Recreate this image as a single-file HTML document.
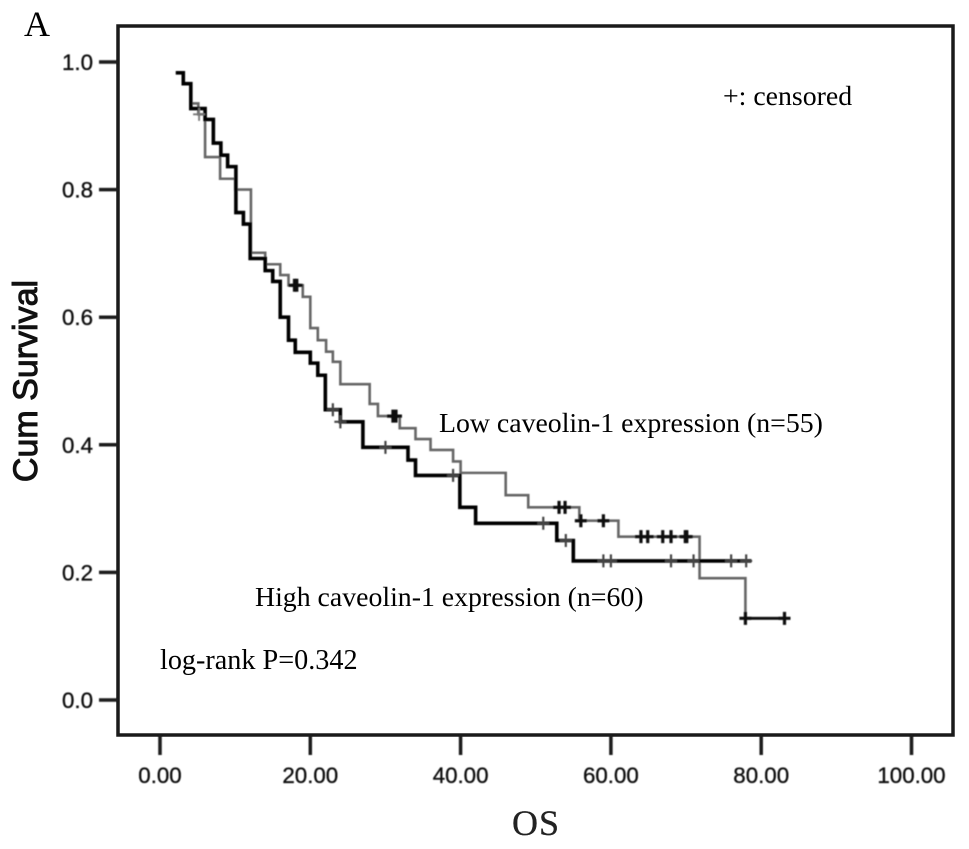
<!DOCTYPE html>
<html>
<head>
<meta charset="utf-8">
<title>Kaplan-Meier survival chart</title>
<style>
html,body{margin:0;padding:0;background:#fff;}
svg{display:block;}
.tick-label{font-family:"Liberation Sans",sans-serif;font-size:22.3px;fill:#111;stroke:#111;stroke-width:0.35;}
.note{font-family:"Liberation Serif",serif;font-size:27.8px;fill:#000;}
</style>
</head>
<body>
<svg id="chart" width="969" height="849" viewBox="0 0 969 849" xmlns="http://www.w3.org/2000/svg">
  <defs><filter id="soft" x="-5%" y="-5%" width="110%" height="110%"><feGaussianBlur stdDeviation="0.4"/></filter></defs>
  <rect x="0" y="0" width="969" height="849" fill="#fff"/>
  <rect x="118" y="26" width="835" height="709" fill="none" stroke="#1a1a1a" stroke-width="3.5"/>
  <g id="axes" filter="url(#soft)"></g>
  <g id="marks" filter="url(#soft)"></g>
  <text x="24" y="36" font-family="'Liberation Serif',serif" font-size="36" fill="#000">A</text>
  <text transform="translate(37,381) rotate(-90)" text-anchor="middle" font-family="'Liberation Sans',sans-serif" font-size="34" fill="#111" stroke="#111" stroke-width="1">Cum Survival</text>
  <text x="536" y="835" text-anchor="middle" font-family="'Liberation Serif',serif" font-size="36" letter-spacing="1" fill="#222" stroke="#222" stroke-width="0.3">OS</text>
  <text class="note" x="723" y="105">+: censored</text>
  <text class="note" x="439" y="432">Low caveolin-1 expression (n=55)</text>
  <text class="note" x="255" y="606">High caveolin-1 expression (n=60)</text>
  <text class="note" x="160" y="669" style="font-size:28.2px">log-rank P=0.342</text>
</svg>
<script>
const xTicks = [0, 20, 40, 60, 80, 100];
const xTickLabels = ['0.00', '20.00', '40.00', '60.00', '80.00', '100.00'];
const yTicks = [0, 0.2, 0.4, 0.6, 0.8, 1];
const yTickLabels = ['0.0', '0.2', '0.4', '0.6', '0.8', '1.0'];

const highTimes = [2.1, 3.1, 4.1, 6.0, 7.1, 8.1, 9.0, 10.1, 11.1, 12.0, 14.0, 15.0, 16.0, 17.1, 18.0, 20.0, 21.0, 22.0, 24.0, 27.0, 33.0, 34.0, 39.9, 42.0, 52.8, 55.0];
const highSurvival = [0.983, 0.966, 0.927, 0.910, 0.873, 0.854, 0.836, 0.764, 0.746, 0.692, 0.673, 0.656, 0.600, 0.564, 0.545, 0.528, 0.509, 0.455, 0.436, 0.396, 0.376, 0.352, 0.302, 0.277, 0.250, 0.218];
const highEnd = 78.7;
const highCensored = [23.0, 24.0, 30.0, 39.0, 51.0, 54.0, 59.0, 60.0, 68.0, 71.0, 76.0, 78.0];

const lowTimes = [2.1, 3.1, 4.1, 5.1, 6.0, 8.0, 10.0, 12.1, 14.0, 16.0, 17.1, 19.0, 20.0, 21.0, 22.1, 23.0, 24.0, 27.9, 29.0, 31.9, 34.0, 36.0, 39.0, 40.0, 46.0, 49.0, 55.8, 61.0, 71.8, 77.9];
const lowSurvival = [0.983, 0.966, 0.935, 0.918, 0.851, 0.817, 0.800, 0.701, 0.683, 0.666, 0.650, 0.632, 0.583, 0.564, 0.546, 0.530, 0.495, 0.464, 0.445, 0.426, 0.409, 0.392, 0.374, 0.356, 0.321, 0.302, 0.281, 0.256, 0.191, 0.128];
const lowEnd = 83.1;
const lowCensoredThin = [5.2];
const lowCensoredBold = [17.9, 18.2, 31.0, 31.4, 53.1, 53.9, 56.0, 59.0, 64.0, 64.9, 66.9, 68.0, 69.9, 70.1, 77.9, 83.1];

const SVG_NS = 'http://www.w3.org/2000/svg';
const axes = document.getElementById('axes');
const marks = document.getElementById('marks');

function xScale(t) { return 160 + 7.515 * t; }
function yScale(s) { return 700 - 638 * s; }

function make(tag, parent, attrs) {
  const el = document.createElementNS(SVG_NS, tag);
  Object.keys(attrs).forEach(function (k) { el.setAttribute(k, attrs[k]); });
  parent.appendChild(el);
  return el;
}

function survivalAt(times, values, t) {
  let s = values[0];
  for (let i = 0; i < times.length; i++) {
    if (times[i] <= t + 1e-9) s = values[i];
  }
  return s;
}

function stepPath(times, values, end, from) {
  let d = '';
  let started = false;
  for (let i = 0; i < times.length; i++) {
    if (times[i] < from) continue;
    const next = i + 1 < times.length ? times[i + 1] : end;
    if (!started) {
      d += 'M' + xScale(times[i]) + ' ' + yScale(values[i]);
      started = true;
    } else {
      d += 'V' + yScale(values[i]);
    }
    d += 'H' + xScale(next);
  }
  return d;
}

xTicks.forEach(function (v, i) {
  const tick = make('line', axes, {x1: xScale(v), x2: xScale(v), y1: 735, y2: 755, stroke: '#1a1a1a', 'stroke-width': 3.5});
  
  
  const label = make('text', axes, {x: xScale(v), y: 783, 'text-anchor': 'middle', class: 'tick-label'});
  
  
  label.textContent = xTickLabels[i];
});

yTicks.forEach(function (v, i) {
  const tick = make('line', axes, {x1: 99, x2: 118, y1: yScale(v), y2: yScale(v), stroke: '#1a1a1a', 'stroke-width': 3.5});
  
  
  const label = make('text', axes, {x: 93, y: yScale(v) + 8, 'text-anchor': 'end', class: 'tick-label'});
  
  
  label.textContent = yTickLabels[i];
});

function drawCensor(times, values, t, color, width, name) {
  const cx = xScale(t);
  const cy = yScale(survivalAt(times, values, t));
  const mark = make('path', marks, {
    d: 'M' + (cx - 6) + ' ' + cy + 'H' + (cx + 6) + 'M' + cx + ' ' + (cy - 6.5) + 'V' + (cy + 6.5),
    fill: 'none', stroke: color, 'stroke-width': width
  });
  
  
}

const lowLine = make('path', marks, {d: stepPath(lowTimes, lowSurvival, lowEnd, 0), fill: 'none', stroke: '#666', 'stroke-width': 2.6});



const lowTail = make('path', marks, {d: stepPath(lowTimes, lowSurvival, lowEnd, lowTimes[lowTimes.length - 1]), fill: 'none', stroke: '#111', 'stroke-width': 2.8});



const highLine = make('path', marks, {d: stepPath(highTimes, highSurvival, highEnd, 0), fill: 'none', stroke: '#000', 'stroke-width': 3.6});



lowCensoredThin.forEach(function (t) {
  drawCensor(lowTimes, lowSurvival, t, '#777', 1.8, 'low-censor-mark');
});
lowCensoredBold.forEach(function (t) {
  drawCensor(lowTimes, lowSurvival, t, '#111', 3.2, 'low-censor-mark');
});
highCensored.forEach(function (t) {
  drawCensor(highTimes, highSurvival, t, '#444', 2.2, 'high-censor-mark');
});
</script>
</body>
</html>
